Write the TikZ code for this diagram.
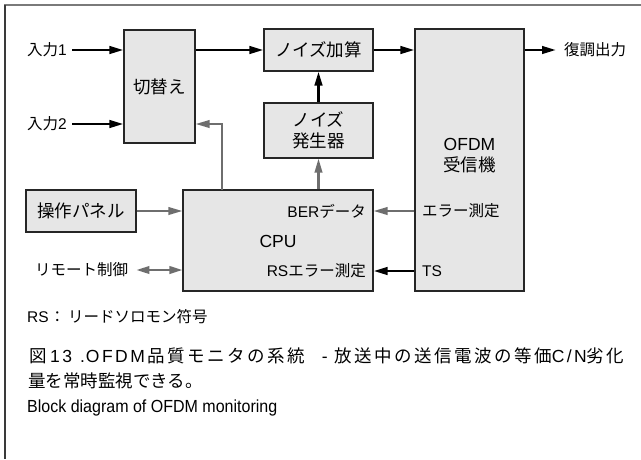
\documentclass[tikz,border=0pt]{standalone}
\usepackage{fontspec}
\setmainfont{Liberation Sans}
\newfontfamily\jp{Noto Sans CJK JP}
\newfontfamily\jpwide[LetterSpace=14]{Noto Sans CJK JP}
\newfontfamily\latwide[LetterSpace=14]{Liberation Sans}
\newfontfamily\latnarrow[FakeStretch=0.915]{Liberation Sans}
\usetikzlibrary{arrows.meta}
\definecolor{boxfill}{HTML}{E6E6E6}
\definecolor{boxline}{HTML}{262626}
\definecolor{arrgray}{HTML}{6E6E6E}
\definecolor{framegray}{HTML}{7A7A7A}
\definecolor{framedark}{HTML}{3A3A3A}
\newcommand\J[1]{{\jp #1}}
\newcommand\JW[1]{{\jpwide #1}}
\newcommand\LW[1]{{\latwide #1}}
\begin{document}
\begin{tikzpicture}[x=1pt,y=-1pt,
  box/.style={draw=boxline,fill=boxfill,line width=1.1pt,inner sep=0pt,
              font=\fontsize{17.5}{24}\selectfont,align=center},
  lbl/.style={inner sep=0pt,font=\fontsize{15.5}{18}\selectfont},
  mid/.style={inner sep=0pt,font=\fontsize{15.5}{18}\selectfont},
  captext/.style={inner sep=0pt,anchor=west,font=\fontsize{17.5}{21}\selectfont},
  blk/.style={line width=2.6pt,-{Triangle[length=14pt,width=7.5pt]}},
  gry/.style={draw=arrgray,line width=2.2pt,-{Triangle[length=14pt,width=7.5pt]}},
  gry2/.style={draw=arrgray,line width=2.2pt,{Triangle[length=13pt,width=7.5pt]}-{Triangle[length=13pt,width=7.5pt]}}]
\path[use as bounding box] (0,0) rectangle (641,459);

% frame
\draw[framegray,line width=1.6pt] (4,5) -- (641,5);
\draw[framedark,line width=1.6pt] (5,5) -- (5,459);

% blocks
\node[box,minimum width=71pt,minimum height=113pt] (sw) at (159.5,86.5) {\J{切替え}};
\node[box,minimum width=109pt,minimum height=42pt] (add) at (318.5,50) {\J{ノイズ加算}};
\node[box,minimum width=109pt,minimum height=55pt] (gen) at (318.5,130.5) {\J{ノイズ}\\[-3pt]\J{発生器}};
\node[box,minimum width=109pt,minimum height=262pt] (rx) at (469.5,160) {};
\node[box,minimum width=110pt,minimum height=42pt] (pan) at (81,211) {\J{操作パネル}};
\node[box,minimum width=190pt,minimum height=101pt] (cpu) at (278,240.5) {};

% text inside the receiver and the CPU
\node[box,draw=none,fill=none] (rxlabel) at (469.5,156) {OFDM\\[-3pt]\J{受信機}};
\node[mid,anchor=west] (err) at (422,211) {\J{エラー測定}};
\node[mid,anchor=west] (ts) at (422,271) {TS};
\node[mid,anchor=east] (ber) at (366,211) {BER\J{データ}};
\node[box,draw=none,fill=none] (cpulabel) at (278,241) {CPU};
\node[mid,anchor=east] (rs) at (366,271) {RS\J{エラー測定}};

% outside labels
\node[lbl,anchor=west] (in1) at (27,50) {\J{入力}1};
\node[lbl,anchor=west] (in2) at (27,124) {\J{入力}2};
\node[lbl,anchor=west] (out) at (564,50) {\J{復調出力}};
\node[lbl,anchor=west] (rem) at (35,270) {\J{リモート制御}};
\node[lbl,anchor=west] (note) at (27,317) {RS\hspace{1pt}\J{：}\hspace{3pt}\J{リードソロモン符号}};

% caption
\node[captext] (cap1) at (29,356) {\JW{図}\hspace{3.5pt}\LW{13}\hspace{8pt}\LW{.}\hspace{1pt}\LW{OFDM}\hspace{3pt}\JW{品質モニタの系統}\hspace{17pt}\LW{-}\hspace{7pt}\JW{放送中の送信電波の等価}\LW{C/N}\JW{劣化}};
\node[captext] (cap2) at (28,381) {\J{量を常時監視できる。}};
\node[captext,font=\latnarrow\fontsize{17.5}{21}\selectfont] (cap3) at (27,408) {Block diagram of OFDM monitoring};

% signal path
\draw[blk] ([xshift=5pt]in1.east) -- (sw.west |- in1);
\draw[blk] ([xshift=5pt]in2.east) -- (sw.west |- in2);
\draw[blk] (sw.east |- add) -- (add.west);
\draw[blk] (add.east) -- (rx.west |- add);
\draw[blk] (rx.east |- add) -- ([xshift=-8pt]out.west);
\draw[blk] (gen.north) -- (add.south);

% control path
\coordinate (tap) at (222,190);
\draw[gry] (cpu.north -| gen) -- (gen.south);
\draw[gry] (tap) |- (sw.east |- in2);
\draw[gry] (pan.east) -- (cpu.west |- pan);
\draw[gry2] ([xshift=8pt]rem.east) -- (cpu.west |- rem);
\draw[gry] (rx.west |- err) -- (cpu.east |- err);
\draw[blk] (rx.west |- ts) -- (cpu.east |- ts);
\end{tikzpicture}
\end{document}
